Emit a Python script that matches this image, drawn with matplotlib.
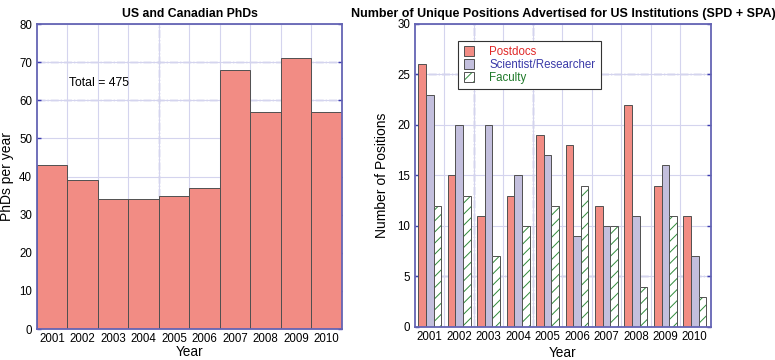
import numpy as np
import matplotlib
matplotlib.use('Agg')
import matplotlib.pyplot as plt

plt.rcParams['font.family'] = ['Liberation Sans', 'DejaVu Sans']
plt.rcParams['hatch.linewidth'] = 0.7

# Data
years = [2001, 2002, 2003, 2004, 2005, 2006, 2007, 2008, 2009, 2010]
phds = [43, 39, 34, 34, 35, 37, 68, 57, 71, 57]
postdocs = [26, 15, 11, 13, 19, 18, 12, 22, 14, 11]
scientists = [23, 20, 20, 15, 17, 9, 10, 11, 16, 7]
faculty = [12, 13, 7, 10, 12, 14, 10, 4, 11, 3]

salmon = '#f28c84'
lavender = '#c3bfdd'
green = '#2f8a3a'
spine_col = '#6464b4'
grid_col = '#d4d4ee'
dash_col = '#3c3cb0'

fig = plt.figure(figsize=(7.75, 3.6), dpi=100)
ax1 = fig.add_axes([0.0477, 0.0861, 0.3935, 0.8472])
ax2 = fig.add_axes([0.5355, 0.0917, 0.3819, 0.8417])

x = np.array(years)


def style(ax, ylim, ystep, xmax, lpad):
    ax.set_xlim(years[0] - 0.5, xmax)
    ax.set_ylim(0, ylim)
    ax.set_xticks(years)
    ax.set_xticks(x[:-1] + 0.5, minor=True)
    ax.set_yticks(np.arange(0, ylim + 1, ystep))
    ax.tick_params(axis='x', which='both', length=0, labelsize=8.3, pad=3)
    ax.tick_params(axis='y', direction='in', length=3, color=dash_col,
                   right=True, labelsize=8.3, width=1)
    for s in ax.spines.values():
        s.set_color(spine_col)
        s.set_linewidth(1.3)
    ax.set_axisbelow(True)
    ax.grid(axis='x', which='minor', color=grid_col, lw=0.8)
    ax.grid(axis='y', which='major', color=grid_col, lw=0.8)
    ax.set_xlabel('Year', fontsize=9.8, labelpad=lpad)


# Left: PhDs
style(ax1, 80, 10, years[-1] + 0.5, 0)
ax1.bar(x, phds, width=1.0, color=salmon, edgecolor='#505050', lw=0.7)
for yv in (60, 70):
    ax1.axhline(yv, color=dash_col, lw=0.9, ls='-.', zorder=0.5, alpha=0.7)
ax1.axvline(2004.5, color=dash_col, lw=0.9, ls='-.', zorder=0.5, alpha=0.7)
ax1.text(2001.55, 64.5, 'Total = 475', fontsize=8.8, va='center')
ax1.set_ylabel('PhDs per year', fontsize=10, labelpad=4)
ax1.set_title('US and Canadian PhDs', fontsize=8.8, fontweight='bold', pad=5)

# Right: positions
style(ax2, 30, 5, years[-1] + 0.55, 2)
w = 0.26
h1 = ax2.bar(x - w, postdocs, width=w, color=salmon, edgecolor='#505050', lw=0.7)
h2 = ax2.bar(x, scientists, width=w, color=lavender, edgecolor='#505050', lw=0.7)
h3a = ax2.bar(x + w, faculty, width=w, color='white', edgecolor=green, lw=0,
              hatch='///')
h3b = ax2.bar(x + w, faculty, width=w, color='none', edgecolor='#505050', lw=0.7)
for yv in (5, 25):
    ax2.axhline(yv, color=dash_col, lw=0.9, ls='-.', zorder=0.5, alpha=0.8)
for xv in (2002.5, 2004.5):
    ax2.axvline(xv, color=dash_col, lw=0.9, ls='-.', zorder=0.5, alpha=0.8)
ax2.set_ylabel('Number of Positions', fontsize=10, labelpad=6)
ax2.set_title('Number of Unique Positions Advertised for US Institutions (SPD + SPA)',
              fontsize=9, fontweight='bold', pad=5)

leg = ax2.legend([h1, h2, (h3a[0], h3b[0])],
                 ['Postdocs', 'Scientist/Researcher', 'Faculty'],
                 loc='upper left', bbox_to_anchor=(0.145, 0.945), fontsize=8.3,
                 frameon=True, fancybox=False, framealpha=1, edgecolor='#333333',
                 handlelength=0.9, handleheight=0.95, handletextpad=1.3,
                 labelspacing=0.05, borderpad=0.5, borderaxespad=0)
leg.get_frame().set_linewidth(0.8)
for txt, col in zip(leg.get_texts(), ['#e02828', '#3a3aa8', '#1f7a2a']):
    txt.set_color(col)
leg.set_zorder(5)

fig.savefig('out.png', dpi=100)
